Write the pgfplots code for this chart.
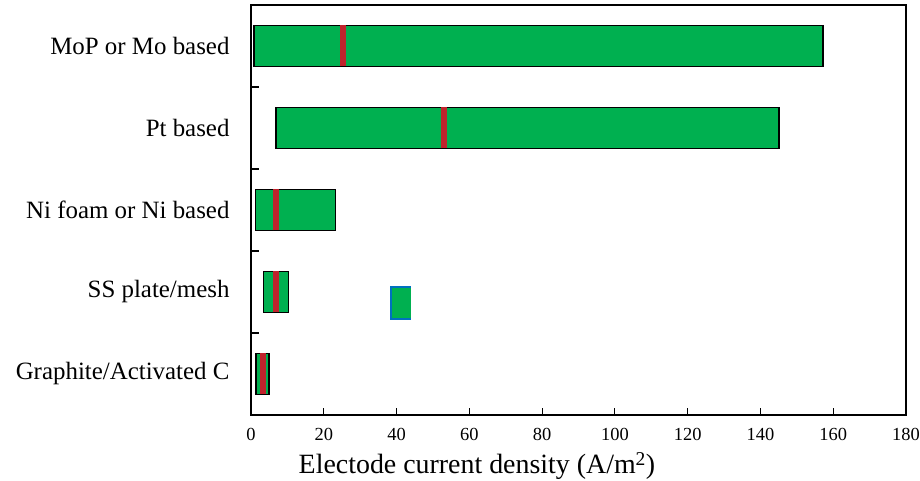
\documentclass[border=0pt]{standalone}
\usepackage{pgfplots}
\pgfplotsset{compat=1.18}
\usepackage{fontspec}
\setmainfont{Liberation Serif}
\definecolor{bargreen}{HTML}{00B050}
\definecolor{medred}{HTML}{C0232C}
\definecolor{boxblue}{HTML}{0070C0}
\begin{document}
\begin{tikzpicture}[x=1bp,y=1bp]
\useasboundingbox (0,0) rectangle (920,481);
\begin{axis}[
  at={(251bp,66bp)}, anchor=south west,
  scale only axis, width=655bp, height=410bp,
  xmin=0, xmax=180, ymin=-0.5, ymax=4.5,
  axis line style={black, line width=1.3bp},
  xtick={0,20,...,180},
  xtick pos=bottom, ytick pos=left,
  tick align=inside,
  major tick length=6.5bp,
  minor tick length=8bp,
  ytick={0,1,2,3,4},
  yticklabels={Graphite/Activated C, SS plate/mesh, Ni foam or Ni based, Pt based, MoP or Mo based},
  minor ytick={0.5,1.5,2.5,3.5},
  major y tick style={draw=none},
  minor y tick style={black, line width=1.3bp},
  major x tick style={black, line width=1.1bp},
  /pgf/number format/assume math mode=true,
  xticklabel style={font=\fontsize{18.5}{18.5}\selectfont, yshift=-10bp},
  yticklabel style={font=\fontsize{25}{25}\selectfont, xshift=-18bp},
  xlabel={Electode current density (A/m\textsuperscript{2})},
  xlabel style={font=\fontsize{28}{28}\selectfont, at={(axis description cs:0.345,0)}, anchor=base, yshift=-59bp},
  unbounded coords=jump,
  clip=false,
]
% floating bars (min to max)
\addplot[fill=bargreen, draw=black, line width=1.3bp] coordinates {(0.8,3.75) (157.2,3.75) (157.2,4.25) (0.8,4.25)} -- cycle;
\addplot[fill=bargreen, draw=black, line width=1.3bp] coordinates {(6.9,2.75) (145.1,2.75) (145.1,3.25) (6.9,3.25)} -- cycle;
\addplot[fill=bargreen, draw=black, line width=1.3bp] coordinates {(1.2,1.75) (23.2,1.75) (23.2,2.25) (1.2,2.25)} -- cycle;
\addplot[fill=bargreen, draw=black, line width=1.3bp] coordinates {(3.4,0.75) (10.4,0.75) (10.4,1.25) (3.4,1.25)} -- cycle;
\addplot[fill=bargreen, draw=black, line width=1.3bp] coordinates {(1.4,-0.25) (4.95,-0.25) (4.95,0.25) (1.4,0.25)} -- cycle;
% typical values
\addplot[medred, line width=6bp] coordinates {
(25.3,3.75) (25.3,4.25) (nan,nan)
(53.0,2.75) (53.0,3.25) (nan,nan)
(6.8,1.75) (6.8,2.25) (nan,nan)
(6.95,0.75) (6.95,1.25) (nan,nan)
(3.2,-0.25) (3.2,0.25)};
% stray legend fragment
\addplot[fill=bargreen, draw=none] coordinates {(38.5,0.671) (43.9,0.671) (43.9,1.061) (38.5,1.061)} -- cycle;
\addplot[boxblue, line width=1.5bp] coordinates {(43.9,1.061) (38.5,1.061) (38.5,0.671) (43.9,0.671)};
\end{axis}
\end{tikzpicture}
\end{document}
